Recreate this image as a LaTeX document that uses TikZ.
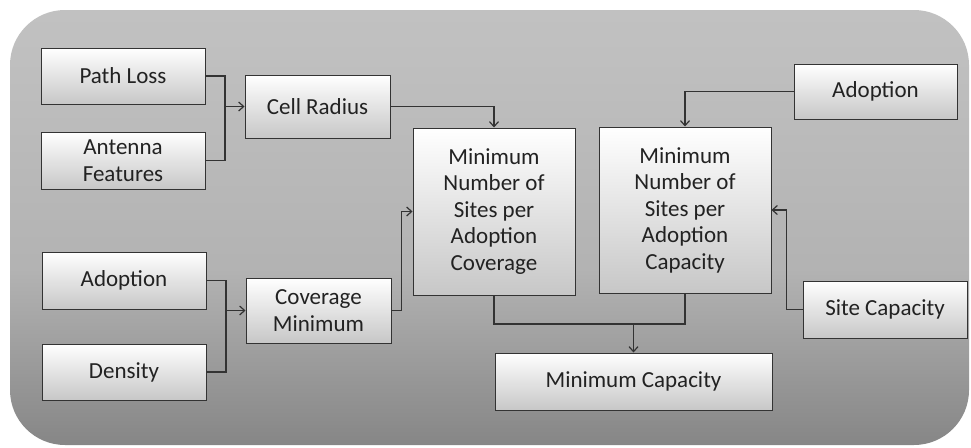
\documentclass[tikz,border=0pt]{standalone}
\usepackage{fontspec}
\setmainfont{Carlito}
\usetikzlibrary{arrows.meta}
\definecolor{txt}{HTML}{222222}
\definecolor{edge}{HTML}{333333}
\pgfdeclareverticalshading{backdrop}{100bp}{color(0bp)=(black!66); color(22bp)=(black!50);
  color(45bp)=(black!30); color(70bp)=(black!25); color(100bp)=(black!21)}

\begin{document}
\begin{tikzpicture}[x=1pt,y=-1pt,
  box/.style={draw=edge, line width=1pt, top color=white, bottom color=black!22,
    text=txt, align=center, inner sep=0pt, font=\fontsize{23}{26.5}\selectfont},
  wire/.style={draw=edge, line width=1.2pt},
  >={Straight Barb[length=5pt,width=9pt]}]
\useasboundingbox (0,0) rectangle (971,447);
\shade[shading=backdrop, rounded corners=55pt] (10,10) rectangle (969,445);
\node[box, minimum width=164, minimum height=56] (pathloss) at (123,76) {Path Loss};
\node[box, minimum width=164, minimum height=57] (antenna) at (123,160.5) {Antenna\\Features};
\node[box, minimum width=145, minimum height=63] (cellradius) at (317.5,106.5) {Cell Radius};
\node[box, minimum width=164, minimum height=57] (adoptL) at (124,280.5) {Adoption};
\node[box, minimum width=164, minimum height=56] (density) at (124,372) {Density};
\node[box, minimum width=145, minimum height=65] (covmin) at (318.5,310.5) {Coverage\\Minimum};
\node[box, minimum width=162, minimum height=167] (sitescov) at (494,211.5) {Minimum\\Number of\\Sites per\\Adoption\\Coverage};
\node[box, minimum width=172, minimum height=166] (sitescap) at (685,210) {Minimum\\Number of\\Sites per\\Adoption\\Capacity};
\node[box, minimum width=163, minimum height=55] (adoptR) at (875.5,91.5) {Adoption};
\node[box, minimum width=164, minimum height=57] (sitecap) at (885,309.5) {Site Capacity};
\node[box, minimum width=277, minimum height=57] (mincap) at (633.5,381.5) {Minimum Capacity};
\coordinate (j1) at (225,106.5);
\coordinate (j2) at (226,310.5);
\coordinate (j3) at (633.5,324);
% left inputs
\path[wire] (pathloss.east) -| (j1) |- (antenna.east);
\path[wire,->] (j1) -- (cellradius.west);
\path[wire] (adoptL.east) -| (j2) |- (density.east);
\path[wire,->] (j2) -- (covmin.west);
\path[wire,->] (cellradius.east) -| (sitescov.north);
\path[wire,->] (covmin.east) -- ++(10,0) |- (sitescov.west);
% right inputs
\path[wire,->] (adoptR.west) -| (sitescap.north);
\path[wire,->] (sitecap.west) -- ++(-16,0) |- (sitescap.east);
% output
\path[wire] (sitescov.south) |- (j3) -| (sitescap.south);
\path[wire,->] (j3) -- (mincap.north);
\end{tikzpicture}
\end{document}
